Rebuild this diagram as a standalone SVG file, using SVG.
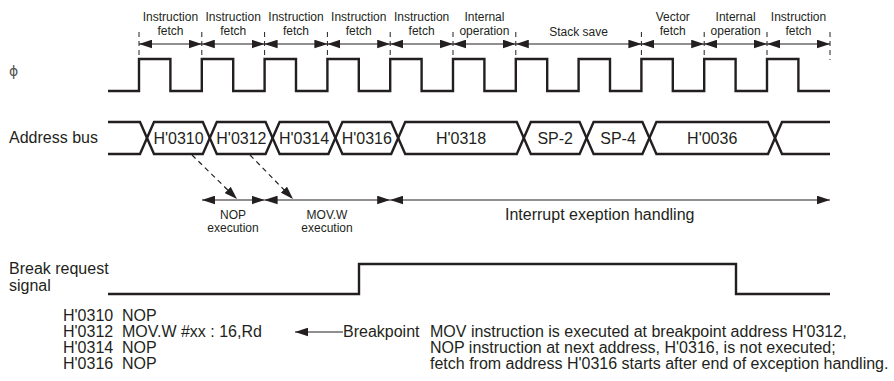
<svg xmlns="http://www.w3.org/2000/svg" width="894" height="381" viewBox="0 0 894 381">
<style>
text{font-family:"Liberation Sans",Arial,sans-serif;fill:#231f20}
.big{font-size:16px}
.sm{font-size:12px}
.mid{text-anchor:middle}
.sig{fill:none;stroke:#231f20;stroke-width:2.4;stroke-linejoin:miter}
.arr{fill:none;stroke:#231f20;stroke-width:1;marker-start:url(#ah);marker-end:url(#ah)}
.tick{fill:none;stroke:#231f20;stroke-width:1;stroke-dasharray:5 4}
.dash{fill:none;stroke:#231f20;stroke-width:1.2;stroke-dasharray:5 4;marker-end:url(#ah)}
</style>
<defs>
<marker id="ah" markerUnits="userSpaceOnUse" markerWidth="13" markerHeight="9" refX="12" refY="4" orient="auto-start-reverse" viewBox="0 0 12 8">
<path d="M0,0 L12,4 L0,8 z" fill="#231f20"/>
</marker>
</defs>
<rect width="894" height="381" fill="#fff"/>

<g id="phase-labels" class="sm">
<text class="mid" x="170.4" y="21">Instruction</text><text class="mid" x="170.4" y="35">fetch</text>
<text class="mid" x="233.2" y="21">Instruction</text><text class="mid" x="233.2" y="35">fetch</text>
<text class="mid" x="296" y="21">Instruction</text><text class="mid" x="296" y="35">fetch</text>
<text class="mid" x="358.8" y="21">Instruction</text><text class="mid" x="358.8" y="35">fetch</text>
<text class="mid" x="421.6" y="21">Instruction</text><text class="mid" x="421.6" y="35">fetch</text>
<text class="mid" x="484.4" y="21">Internal</text><text class="mid" x="484.4" y="35">operation</text>
<text class="mid" x="578.6" y="36">Stack save</text>
<text class="mid" x="672.8" y="21">Vector</text><text class="mid" x="672.8" y="35">fetch</text>
<text class="mid" x="735.6" y="21">Internal</text><text class="mid" x="735.6" y="35">operation</text>
<text class="mid" x="798.5" y="21">Instruction</text><text class="mid" x="798.5" y="35">fetch</text>
</g>

<g id="phase-ticks">
<path class="tick" d="M139,32V59 M201.8,32V59 M264.6,32V59 M327.4,32V59 M390.2,32V59 M453,32V59 M515.8,32V59 M641.4,32V59 M704.2,32V59 M767,32V59 M830,32V60"/>
</g>

<g id="signal-labels" class="big">
<text x="9" y="76" style="font-family:'DejaVu Sans','Liberation Sans',sans-serif;font-size:14px;fill:#555">ϕ</text>
<text x="9" y="143">Address bus</text>
<text x="9" y="274">Break request</text>
<text x="9" y="291">signal</text>
</g>

<g id="clock">
<path class="sig" d="M108,91 H139 V59 H170.4 V91 H201.8 V59 H233.2 V91 H264.6 V59 H296 V91 H327.4 V59 H358.8 V91 H390.2 V59 H421.6 V91 H453 V59 H484.4 V91 H515.8 V59 H547.2 V91 H578.6 V59 H610 V91 H641.4 V59 H672.8 V91 H704.2 V59 H735.6 V91 H767 V59 H798.4 V91 H830"/>
</g>

<g id="address-bus">
<path class="sig" d="M108,122 H140 L154,154 H202.8 L216.8,122 H265.6 L279.6,154 H328.4 L342.4,122 H391.2 L405.2,154 H516.8 L530.8,122 H579.6 L593.6,154 H642.4 L656.4,122 H768 L782,154 H830"/>
<path class="sig" d="M108,154 H140 L154,122 H202.8 L216.8,154 H265.6 L279.6,122 H328.4 L342.4,154 H391.2 L405.2,122 H516.8 L530.8,154 H579.6 L593.6,122 H642.4 L656.4,154 H768 L782,122 H830"/>
<g class="big">
<text class="mid" x="178.5" y="144">H'0310</text>
<text class="mid" x="241.4" y="144">H'0312</text>
<text class="mid" x="304" y="144">H'0314</text>
<text class="mid" x="366.8" y="144">H'0316</text>
<text class="mid" x="461" y="144">H'0318</text>
<text class="mid" x="555.2" y="144">SP-2</text>
<text class="mid" x="618" y="144">SP-4</text>
<text class="mid" x="712.2" y="144">H'0036</text>
</g>
</g>

<g id="execution-labels">
<text class="sm mid" x="233" y="219">NOP</text>
<text class="sm mid" x="233" y="232">execution</text>
<text class="sm mid" x="327" y="219">MOV.W</text>
<text class="sm mid" x="327" y="232">execution</text>
<text class="big" x="505" y="220">Interrupt exeption handling</text>
</g>

<g id="break-signal">
<path class="sig" d="M108,294 H359 V264 H736 V294 H830"/>
</g>

<g id="code" class="big">
<text x="63" y="321">H'0310</text><text x="122" y="321">NOP</text>
<text x="63" y="337">H'0312</text><text x="122" y="337">MOV.W #xx : 16,Rd</text>
<text x="63" y="353">H'0314</text><text x="122" y="353">NOP</text>
<text x="63" y="369">H'0316</text><text x="122" y="369">NOP</text>
<text x="343" y="337">Breakpoint</text>
</g>

<g id="note" class="big">
<text x="430" y="337">MOV instruction is executed at breakpoint address H'0312,</text>
<text x="430" y="353">NOP instruction at next address, H'0316, is not executed;</text>
<text x="430" y="369">fetch from address H'0316 starts after end of exception handling.</text>
</g>

<g id="connectors">
<path class="arr" d="M139,44H201.8"/>
<path class="arr" d="M201.8,44H264.6"/>
<path class="arr" d="M264.6,44H327.4"/>
<path class="arr" d="M327.4,44H390.2"/>
<path class="arr" d="M390.2,44H453"/>
<path class="arr" d="M453,44H515.8"/>
<path class="arr" d="M515.8,44H641.4"/>
<path class="arr" d="M641.4,44H704.2"/>
<path class="arr" d="M704.2,44H767"/>
<path class="arr" d="M767,44H830"/>
<path class="arr" d="M202,200H264.6"/>
<path class="arr" d="M264.6,200H390.2"/>
<path class="arr" d="M390.2,200H830"/>
<path class="dash" d="M192,155L237,199"/>
<path class="dash" d="M250,155L293,199"/>
<path fill="none" stroke="#231f20" stroke-width="1" marker-end="url(#ah)" d="M343,332H295"/>
</g>
</svg>
